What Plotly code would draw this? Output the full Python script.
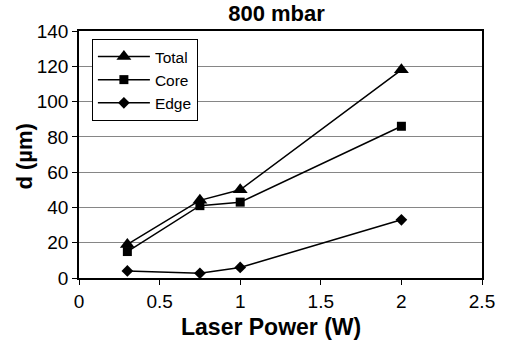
import plotly.graph_objects as go

power = [0.3, 0.75, 1.0, 2.0]
total = [19, 44, 50, 118]
core = [15, 41, 43, 86]
edge = [4, 2.7, 6, 33]

x_ticks = [0, 0.5, 1, 1.5, 2, 2.5]
x_tick_text = ["0", "0.5", "1", "1.5", "2", "2.5"]
y_ticks = [0, 20, 40, 60, 80, 100, 120, 140]

series = [
    ("Total", total, "triangle-up", 13),
    ("Core", core, "square", 9),
    ("Edge", edge, "diamond", 9),
]

fig = go.Figure()
for name, vals, sym, size in series:
    fig.add_trace(go.Scatter(
        x=power, y=vals, name=name, mode="lines+markers",
        line=dict(color="black", width=1.5),
        marker=dict(symbol=sym, size=size, color="black"),
    ))

font_family = "Liberation Sans, Arial, sans-serif"

fig.update_layout(
    width=507, height=341,
    margin=dict(l=79, r=22, t=31, b=63),
    paper_bgcolor="white", plot_bgcolor="white",
    font=dict(family=font_family, color="black", size=19),
    title=dict(text="<b>800 mbar</b>", xref="paper", x=0.49, xanchor="center",
               yref="container", y=0.962, yanchor="middle", font=dict(size=22)),
    showlegend=True,
    legend=dict(x=0.032, y=0.968, xanchor="left", yanchor="top",
                bgcolor="white", bordercolor="black", borderwidth=1,
                font=dict(size=15.5), itemwidth=52, tracegroupgap=0),
    xaxis=dict(range=[0, 2.5], tickvals=x_ticks, ticktext=x_tick_text,
               showgrid=False, zeroline=False,
               showline=True, linecolor="black", linewidth=1.5, mirror=True,
               ticks="outside", ticklen=5, tickcolor="black",
               tickfont=dict(size=19)),
    yaxis=dict(range=[0, 140], tickvals=y_ticks,
               showgrid=True, gridcolor="#868686", gridwidth=1.2,
               zeroline=False,
               showline=True, linecolor="black", linewidth=1.5, mirror=True,
               ticks="outside", ticklen=5, tickcolor="black",
               tickfont=dict(size=19)),
    annotations=[
        dict(text="<b>Laser Power (W)</b>", xref="paper", yref="paper",
             x=0.477, y=-0.2, xanchor="center", yanchor="middle",
             showarrow=False, font=dict(size=23)),
        dict(text="<b>d (µm)</b>", xref="paper", yref="paper",
             x=-0.135, y=0.49, xanchor="center", yanchor="middle",
             textangle=-90, showarrow=False, font=dict(size=22)),
    ],
)

fig.write_html("out.html")
